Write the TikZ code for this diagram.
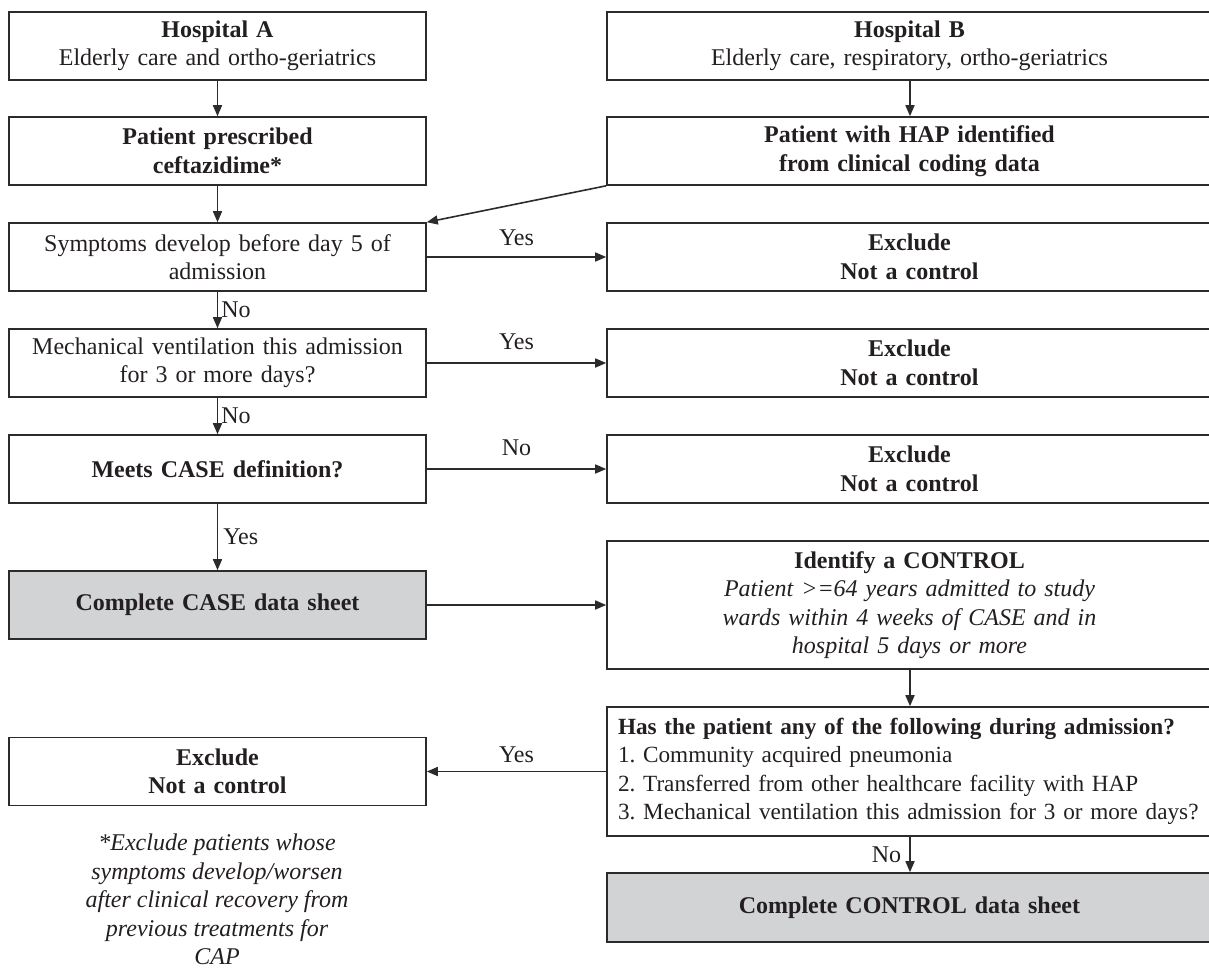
\documentclass[tikz,border=0pt]{standalone}
\usepackage{fontspec}
\setmainfont{Liberation Serif}
\usetikzlibrary{arrows.meta}
\definecolor{linecol}{HTML}{2B2B2B}
\definecolor{txtcol}{HTML}{231F20}
\definecolor{greyfill}{HTML}{D1D3D4}
\frenchspacing
\begin{document}
\begin{tikzpicture}[x=1pt,y=-1pt,
  every node/.style={text=txtcol},
  box/.style={draw=linecol, line width=1.6pt, inner sep=0pt, align=center,
    font=\fontsize{24}{28.5}\selectfont},
  lbox/.style={box, minimum width=417pt, text width=405pt},
  rbox/.style={box, minimum width=605pt, text width=560pt},
  sh/.style={minimum height=68pt},
  tall/.style={minimum height=128pt},
  grey/.style={fill=greyfill},
  arr/.style={draw=linecol, line width=1.6pt, -{Triangle[length=11pt,width=9pt]}},
  lab/.style={font=\fontsize{24}{28.5}\selectfont, inner sep=0pt}
]
\useasboundingbox (0,0) rectangle (1209,969);
\clip (0,0) rectangle (1209,969);

% left column
\node[lbox,sh] (hA) at (217.5,46) {\textbf{Hospital A}\\Elderly care and ortho-geriatrics};
\node[lbox,sh] (pres) at (217.5,151) {\textbf{Patient prescribed}\\\textbf{ceftazidime*}};
\node[lbox,sh] (sym) at (217.5,257) {Symptoms develop before day 5 of\\admission};
\node[lbox,sh] (mech) at (217.5,363) {Mechanical ventilation this admission\\for 3 or more days?};
\node[lbox,sh] (meets) at (217.5,469) {\textbf{Meets CASE definition?}};
\node[lbox,sh,grey] (case) at (217.5,605) {\textbf{Complete CASE data sheet}};
\node[lbox,sh] (exL) at (217.5,771.5) {\textbf{Exclude}\\\textbf{Not a control}};

% right column
\node[rbox,sh] (hB) at (909.5,46) {\textbf{Hospital B}\\Elderly care, respiratory, ortho-geriatrics};
\node[rbox,sh] (hap) at (909.5,151) {\textbf{Patient with HAP identified}\\\textbf{from clinical coding data}};
\node[rbox,sh] (ex1) at (909.5,257) {\textbf{Exclude}\\\textbf{Not a control}};
\node[rbox,sh] (ex2) at (909.5,363) {\textbf{Exclude}\\\textbf{Not a control}};
\node[rbox,sh] (ex3) at (909.5,469) {\textbf{Exclude}\\\textbf{Not a control}};
\node[rbox,tall] (ident) at (909.5,605) {\textbf{Identify a CONTROL}\\\textit{Patient >=64 years admitted to study}\\\textit{wards within 4 weeks of CASE and in}\\\textit{hospital 5 days or more}};
\node[box, minimum width=605pt, minimum height=129pt, text width=583pt, align=left,
      font=\fontsize{23.2}{28.5}\selectfont] (has) at (909.5,771.5)
  {\textbf{Has the patient any of the following during admission?}\\1. Community acquired pneumonia\\2. Transferred from other healthcare facility with HAP\\3. Mechanical ventilation this admission for 3 or more days?};
\node[rbox,sh,grey,minimum height=69pt] (ctrl) at (909.5,907.5) {\textbf{Complete CONTROL data sheet}};

% footnote
\node[lab, anchor=north, align=center, font=\fontsize{24}{28.5}\selectfont\itshape] (foot) at (217,834)
  {*Exclude patients whose\\symptoms develop/worsen\\after clinical recovery from\\previous treatments for\\CAP};

% connectors
\draw[arr] (hA) -- (pres);
\draw[arr] (pres) -- (sym);
\draw[arr] (sym) -- node[lab, right=3pt, pos=0.5] {No} (mech);
\draw[arr] (mech) -- node[lab, right=3pt, pos=0.5] {No} (meets);
\draw[arr] (meets) -- node[lab, right=5pt, pos=0.5] {Yes} (case);
\draw[arr] (hB.south) ++(0.5,0) coordinate (hBs) -- (hap.north -| hBs);
\draw[arr] (hap.south west) -- (sym.north east);
\draw[arr] (sym) -- node[lab, above=10pt, pos=0.5] {Yes} (ex1);
\draw[arr] (mech) -- node[lab, above=12pt, pos=0.5] {Yes} (ex2);
\draw[arr] (meets) -- node[lab, above=12pt, pos=0.5] {No} (ex3);
\draw[arr] (case) -- (ident);
\draw[arr] (ident.south -| hBs) -- (has.north -| hBs);
\draw[arr] (has) -- node[lab, above=8pt, pos=0.5] {Yes} (exL);
\draw[arr] (has.south -| hBs) -- node[lab, left=8pt, pos=0.5] {No} (ctrl.north -| hBs);
\end{tikzpicture}
\end{document}
